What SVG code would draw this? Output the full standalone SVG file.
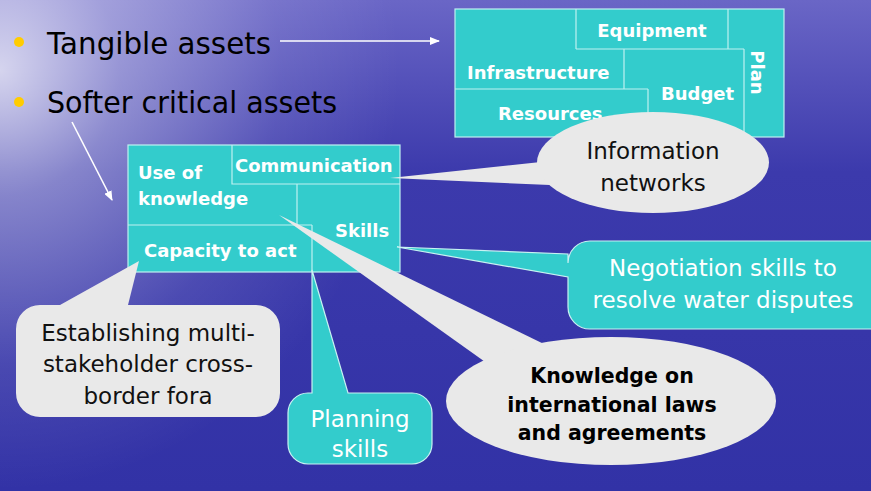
<svg xmlns="http://www.w3.org/2000/svg" width="871" height="491" viewBox="0 0 871 491">
<defs>
<linearGradient id="bgv" x1="0" y1="0" x2="0" y2="1">
<stop offset="0" stop-color="#6a66c6"/>
<stop offset="0.35" stop-color="#3c3aac"/>
<stop offset="1" stop-color="#3232a6"/>
</linearGradient>
<radialGradient id="glow" gradientUnits="userSpaceOnUse" cx="0" cy="70" r="400" gradientTransform="translate(0,70) scale(1,1.05) translate(0,-70)">
<stop offset="0" stop-color="#ffffff" stop-opacity="0.75"/>
<stop offset="0.3" stop-color="#ffffff" stop-opacity="0.38"/>
<stop offset="0.7" stop-color="#ffffff" stop-opacity="0.1"/>
<stop offset="1" stop-color="#ffffff" stop-opacity="0"/>
</radialGradient>
<marker id="arr" markerWidth="10" markerHeight="8" refX="9" refY="4" orient="auto" markerUnits="userSpaceOnUse">
<path d="M0,0 L10,4 L0,8 Z" fill="#ffffff"/>
</marker>
<style>
.box{fill:#33cccc;stroke:#bff0f0;stroke-width:1.2}
.ln{fill:none;stroke:#bff0f0;stroke-width:1.2}
.lbl{font-family:"DejaVu Sans",sans-serif;font-weight:bold;font-size:18px;fill:#ffffff}
.bul{font-family:"DejaVu Sans",sans-serif;font-size:31px;fill:#000000}
.grey{fill:#e9e9e9}
.cyan{fill:#33cccc;stroke:#c8f2f2;stroke-width:1.2}
.ct{font-family:"DejaVu Sans",sans-serif;font-size:23px;text-anchor:middle}
.dark{fill:#111111}
.white{fill:#ffffff}
.kt{font-family:"DejaVu Sans",sans-serif;font-weight:bold;font-size:20.5px;text-anchor:middle;fill:#000000}
.con{stroke:#ffffff;stroke-width:1.6;fill:none}
</style>
</defs>
<rect width="871" height="491" fill="url(#bgv)"/>
<rect width="871" height="491" fill="url(#glow)"/>

<g id="bullets">
<circle cx="19" cy="42" r="5" fill="#ffcc00"/>
<circle cx="19" cy="102" r="5" fill="#ffcc00"/>
<text class="bul" x="47" y="54" textLength="224" lengthAdjust="spacingAndGlyphs">Tangible assets</text>
<text class="bul" x="47" y="113" textLength="290" lengthAdjust="spacingAndGlyphs">Softer critical assets</text>
</g>

<g id="connectors">
<line class="con" x1="280" y1="41" x2="439" y2="41" marker-end="url(#arr)"/>
<line class="con" x1="72" y1="122" x2="112" y2="200" marker-end="url(#arr)"/>
</g>

<g id="tangible-block">
<rect class="box" x="455" y="9" width="329" height="128"/>
<path class="ln" d="M576,9 V49 M728,9 V49 M576,49 H744 M744,49 V137 M624,49 V89 M455,89 H648 M648,89 V137"/>
<text class="lbl" x="652" y="37" text-anchor="middle">Equipment</text>
<text class="lbl" x="467" y="79">Infrastructure</text>
<text class="lbl" x="498" y="120">Resources</text>
<text class="lbl" x="661" y="100">Budget</text>
<text class="lbl" transform="translate(751,72.5) rotate(90)" text-anchor="middle">Plan</text>
</g>

<g id="soft-block">
<rect class="box" x="128" y="145" width="272" height="127"/>
<path class="ln" d="M232,145 V184 H400 M297,184 V225 M128,225 H312 M312,225 V272"/>
<text class="lbl" x="138" y="179">Use of</text>
<text class="lbl" x="138" y="205">knowledge</text>
<text class="lbl" x="235" y="172">Communication</text>
<text class="lbl" x="335" y="237">Skills</text>
<text class="lbl" x="144" y="257">Capacity to act</text>
</g>

<g id="callout-information">
<polygon class="grey" points="390,178 550,161 550,185"/>
<ellipse class="grey" cx="653" cy="162.5" rx="116" ry="50.5"/>
<text class="ct dark" x="653" y="159">Information</text>
<text class="ct dark" x="653" y="191">networks</text>
</g>

<g id="callout-negotiation">
<path class="cyan" d="M590,241 H905 V329 H590 A22 22 0 0 1 568 307 V277 L397 247 L568 254 V263 A22 22 0 0 1 590 241 Z"/>
<text class="ct white" x="723" y="276">Negotiation skills to</text>
<text class="ct white" x="723" y="308">resolve water disputes</text>
</g>

<g id="callout-knowledge">
<polygon class="grey" points="279,215 548,346 488,364"/>
<ellipse class="grey" cx="611" cy="401" rx="165" ry="64"/>
<text class="kt" x="612" y="383">Knowledge on</text>
<text class="kt" x="612" y="412">international laws</text>
<text class="kt" x="612" y="440">and agreements</text>
</g>

<g id="callout-establishing">
<path class="grey" d="M16,329 A24 24 0 0 1 40 305 H60 L139 261 L128 305 H256 A24 24 0 0 1 280 329 V393 A24 24 0 0 1 256 417 H40 A24 24 0 0 1 16 393 Z"/>
<text class="ct dark" x="148" y="341">Establishing multi-</text>
<text class="ct dark" x="148" y="372">stakeholder cross-</text>
<text class="ct dark" x="148" y="404">border fora</text>
</g>

<g id="callout-planning">
<path class="cyan" d="M288,413 A20 20 0 0 1 308 393 H312 V270 L348 393 H412 A20 20 0 0 1 432 413 V444 A20 20 0 0 1 412 464 H308 A20 20 0 0 1 288 444 Z"/>
<text class="ct white" x="360" y="427">Planning</text>
<text class="ct white" x="360" y="457">skills</text>
</g>
</svg>
